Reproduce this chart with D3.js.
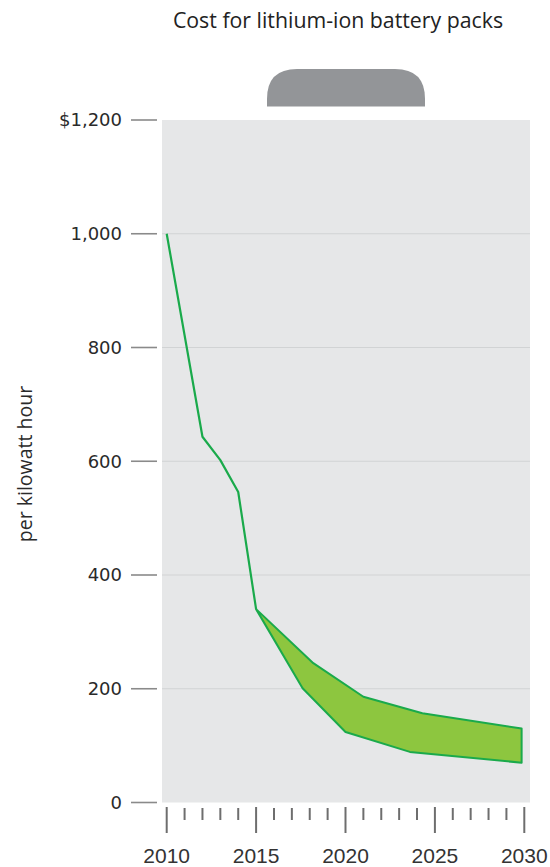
<!DOCTYPE html>
<html>
<head>
<meta charset="utf-8">
<script src="https://cdn.jsdelivr.net/npm/d3@7"></script>
<style>
  html, body { margin: 0; padding: 0; background: #ffffff; }
  svg { display: block; }
</style>
</head>
<body>
<div id="chart"></div>
<script>
// ---- data ----
const title = "Cost for lithium-ion battery packs";
const yAxisLabel = "per kilowatt hour";
const yTicks = [0, 200, 400, 600, 800, 1000, 1200];
const yTickLabels = ["0", "200", "400", "600", "800", "1,000", "$1,200"];
const xMajorTicks = [2010, 2015, 2020, 2025, 2030];
const xTickLabels = ["2010", "2015", "2020", "2025", "2030"];
const xMinorTicks = d3.range(2011, 2030).filter(v => v % 5 !== 0);

// historical cost line
const histYears  = [2010, 2012, 2013, 2014, 2015];
const histValues = [1000, 643, 602, 546, 340];

// projection band
const upperYears  = [2015, 2018.2, 2021, 2024.3, 2029.85];
const upperValues = [340, 245, 186, 157, 130];
const lowerYears  = [2015, 2017.6, 2020, 2023.6, 2029.85];
const lowerValues = [340, 201, 124, 89, 70];

// ---- layout ----
const W = 550, H = 867;
const svg = d3.select("#chart").append("svg").attr("width", W).attr("height", H);

const x = d3.scaleLinear().domain([2010, 2030]).range([166.7, 524.3]);
const y = d3.scaleLinear().domain([0, 1200]).range([802.5, 120]);

const panelLeft = 162, panelRight = 530;

// title
svg.append("text")
  .attr("x", 338).attr("y", 28)
  .attr("text-anchor", "middle")
  .attr("font-family", "'Open Sans', 'Noto Sans', sans-serif")
  .attr("font-size", 21.3)
  .attr("fill", "#222")
  .text(title);

// gray tab on top of the panel
{
  const tx0 = 267, tx1 = 425, ty0 = 69, ty1 = 106.5, r = 30;
  svg.append("path")
    .attr("d", `M${tx0},${ty1} L${tx0},${ty0 + r} Q${tx0},${ty0} ${tx0 + r},${ty0} L${tx1 - r},${ty0} Q${tx1},${ty0} ${tx1},${ty0 + r} L${tx1},${ty1} Z`)
    .attr("fill", "#939598");
}

// panel background
svg.append("rect")
  .attr("x", panelLeft).attr("y", y(1200))
  .attr("width", panelRight - panelLeft).attr("height", y(0) - y(1200))
  .attr("fill", "#e6e7e8");

// gridlines
svg.append("g").selectAll("line")
  .data(yTicks.filter(v => v > 0 && v < 1200))
  .join("line")
  .attr("x1", panelLeft).attr("x2", panelRight)
  .attr("y1", d => y(d)).attr("y2", d => y(d))
  .attr("stroke", "#d1d3d4").attr("stroke-width", 1.2);

// y axis ticks + labels
const yAxisG = svg.append("g");
yAxisG.selectAll("line")
  .data(yTicks)
  .join("line")
  .attr("x1", 131).attr("x2", 157)
  .attr("y1", d => y(d)).attr("y2", d => y(d))
  .attr("stroke", "#8a8a8a").attr("stroke-width", 1.6);
yAxisG.selectAll("text")
  .data(yTicks)
  .join("text")
  .attr("x", 122).attr("y", d => y(d))
  .attr("dy", "0.36em")
  .attr("text-anchor", "end")
  .attr("font-family", "'DejaVu Sans', sans-serif")
  .attr("font-size", 18)
  .attr("fill", "#2a2a2a")
  .text((d, i) => yTickLabels[i]);

// y axis title
svg.append("text")
  .attr("transform", `translate(32,464) rotate(-90)`)
  .attr("text-anchor", "middle")
  .attr("font-family", "'Open Sans', 'Noto Sans', sans-serif")
  .attr("font-size", 19.5)
  .attr("fill", "#2a2a2a")
  .text(yAxisLabel);

// x axis ticks
const xAxisG = svg.append("g");
xAxisG.selectAll("line.major")
  .data(xMajorTicks)
  .join("line").attr("class", "major")
  .attr("x1", d => x(d)).attr("x2", d => x(d))
  .attr("y1", 807).attr("y2", 833)
  .attr("stroke", "#6e6e6e").attr("stroke-width", 2);
xAxisG.selectAll("line.minor")
  .data(xMinorTicks)
  .join("line").attr("class", "minor")
  .attr("x1", d => x(d)).attr("x2", d => x(d))
  .attr("y1", 808).attr("y2", 820)
  .attr("stroke", "#6e6e6e").attr("stroke-width", 2);
xAxisG.selectAll("text")
  .data(xMajorTicks)
  .join("text")
  .attr("x", d => x(d)).attr("y", 863)
  .attr("text-anchor", "middle")
  .attr("font-family", "'Liberation Sans', Arial, sans-serif")
  .attr("font-size", 21)
  .attr("fill", "#333")
  .text((d, i) => xTickLabels[i]);

// projection band
const upper = upperYears.map((yr, i) => [yr, upperValues[i]]);
const lower = lowerYears.map((yr, i) => [yr, lowerValues[i]]);
const bandPts = upper.concat(lower.slice().reverse());
svg.append("path")
  .datum(bandPts)
  .attr("d", d3.line().x(d => x(d[0])).y(d => y(d[1])).curve(d3.curveLinearClosed))
  .attr("fill", "#8dc63f")
  .attr("stroke", "#1aaa4b")
  .attr("stroke-width", 2)
  .attr("stroke-linejoin", "round");

// historical line
const hist = histYears.map((yr, i) => [yr, histValues[i]]);
svg.append("path")
  .datum(hist)
  .attr("d", d3.line().x(d => x(d[0])).y(d => y(d[1])))
  .attr("fill", "none")
  .attr("stroke", "#1aaa4b")
  .attr("stroke-width", 2.2)
  .attr("stroke-linejoin", "round");
</script>
</body>
</html>
